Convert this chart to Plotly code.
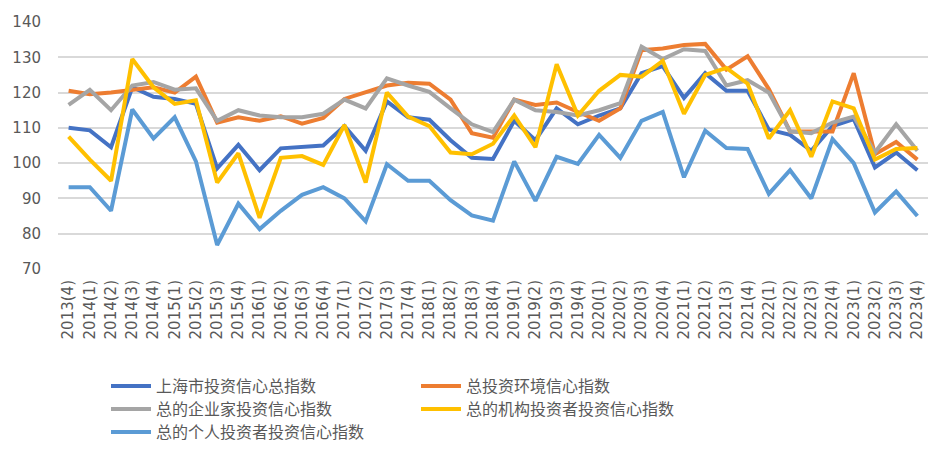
import plotly.graph_objects as go

categories = [
    "2013(4)",
    "2014(1)", "2014(2)", "2014(3)", "2014(4)",
    "2015(1)", "2015(2)", "2015(3)", "2015(4)",
    "2016(1)", "2016(2)", "2016(3)", "2016(4)",
    "2017(1)", "2017(2)", "2017(3)", "2017(4)",
    "2018(1)", "2018(2)", "2018(3)", "2018(4)",
    "2019(1)", "2019(2)", "2019(3)", "2019(4)",
    "2020(1)", "2020(2)", "2020(3)", "2020(4)",
    "2021(1)", "2021(2)", "2021(3)", "2021(4)",
    "2022(1)", "2022(2)", "2022(3)", "2022(4)",
    "2023(1)", "2023(2)", "2023(3)", "2023(4)",
]

total_index = [110, 109.3, 104.5, 121.5, 118.8, 118.2, 116.8, 98.5, 105.2, 98, 104.2,
               104.5, 105, 110.5, 103.5, 117.5, 113, 112.3, 106.5, 101.5, 101.2,
               112, 106.5, 115.5, 111, 113.5, 115.5, 125.5, 127.5, 118.5, 125.5,
               120.5, 120.5, 109.5, 108, 103.5, 110.5, 112.5, 98.8, 103, 98]

environment = [120.5, 119.5, 120, 120.8, 121.5, 120, 124.5, 111.5, 113, 112, 113.3,
               111.2, 112.8, 118.2, 120.2, 122, 122.8, 122.5, 118, 108.5, 107.2,
               118, 116.5, 117.2, 114.5, 112, 115.5, 132, 132.5, 133.5, 133.8,
               126.5, 130.3, 121, 109, 109, 109, 125.5, 102.5, 106, 101]

entrepreneur = [116.5, 120.8, 115, 122, 123, 120.8, 121.2, 112, 115, 113.5, 113,
                113, 114, 118, 115.5, 124, 122, 120.2, 115.5, 111, 108.8,
                118, 115, 114.5, 113.5, 115, 117, 133, 129.5, 132.3, 131.8,
                122, 123.5, 120, 109, 108.5, 111.5, 113.2, 103, 111, 103.5]

institution = [107.5, 101, 95, 129.5, 121.5, 116.8, 117.8, 94.5, 102.8, 84.5, 101.5,
               102, 99.5, 110.8, 94.5, 120, 113.2, 110.5, 103, 102.5, 105.5,
               113.5, 104.5, 128, 113.5, 120.5, 125, 124.5, 129, 114, 125,
               127, 122.5, 107, 115, 101.8, 117.5, 115.5, 101, 104, 104.3]

individual = [93.2, 93.2, 86.5, 115.2, 107, 113, 100.5, 76.8, 88.5, 81.3, 86.5,
              91, 93.2, 90, 83.5, 99.7, 95, 95, 89.5, 85.2, 83.7,
              100.5, 89.3, 101.8, 99.8, 108, 101.5, 112, 114.5, 96, 109.2,
              104.3, 104, 91.3, 98, 90, 106.8, 100, 86, 92, 85]

y_ticks = [70, 80, 90, 100, 110, 120, 130, 140]

series_names = ["上海市投资信心总指数", "总投资环境信心指数", "总的企业家投资信心指数",
                "总的机构投资者投资信心指数", "总的个人投资者投资信心指数"]
series_values = [total_index, environment, entrepreneur, institution, individual]
colors = ["#4472C4", "#ED7D31", "#A5A5A5", "#FFC000", "#5B9BD5"]

CJK = "Noto Sans CJK SC, sans-serif"
NUM = "DejaVu Sans, sans-serif"

W, H = 944, 450  # page body adds an 8px offset

# legend slots: (left x, row centre y) in figure pixels
legend_ids = ["legend", "legend2", "legend3", "legend4", "legend5"]
legend_slots = [(98, 378), (408, 378), (98, 401), (408, 401), (98, 424)]

fig = go.Figure()
for name, vals, col, lg in zip(series_names, series_values, colors, legend_ids):
    fig.add_trace(go.Scatter(
        x=categories, y=vals, name=name, mode="lines",
        line=dict(color=col, width=4),
        legend=lg,
    ))

legends = {}
for lg, (lx, ly) in zip(legend_ids, legend_slots):
    legends[lg] = dict(
        orientation="v",
        xref="container", yref="container",
        xanchor="left", yanchor="middle",
        x=lx / W, y=1 - ly / H,
        font=dict(family=CJK, size=16, color="#595959"),
        bgcolor="rgba(0,0,0,0)",
        borderwidth=0,
        itemwidth=40,
    )

fig.update_layout(
    width=W, height=H,
    margin=dict(l=50, r=24, t=14, b=189, autoexpand=False),
    paper_bgcolor="white",
    plot_bgcolor="white",
    font=dict(family=CJK, color="#595959"),
    showlegend=True,
    **legends,
    xaxis=dict(
        type="category",
        range=[-0.5, len(categories) - 0.5],
        tickangle=-90,
        tickfont=dict(family=NUM, size=15, color="#595959"),
        showgrid=False,
        showline=False,
        ticks="",
        ticklabelstandoff=7,
        automargin=False,
    ),
    yaxis=dict(
        range=[70, 140],
        tickvals=y_ticks,
        tickfont=dict(family=NUM, size=15, color="#595959"),
        showgrid=True,
        gridcolor="#D9D9D9",
        gridwidth=1.5,
        zeroline=False,
        showline=False,
        ticks="",
        ticklabelstandoff=16,
        automargin=False,
    ),
)

fig.write_html("out.html")
